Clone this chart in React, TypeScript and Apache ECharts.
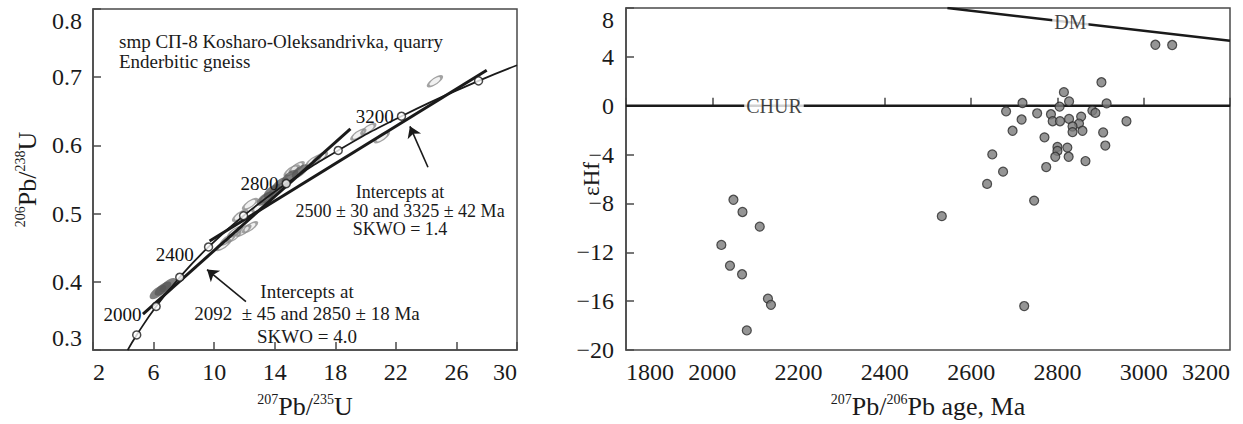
import React, { useEffect, useRef } from "react";
import * as echarts from "echarts";

// ---------- Left panel: concordia diagram ----------
const concordiaX = [4.288, 4.887, 6.169, 7.729, 9.63, 11.944, 14.762, 18.193, 22.371, 27.46, 30.0];
const concordiaY = [0.2999, 0.3221, 0.3638, 0.4067, 0.4511, 0.4968, 0.544, 0.5926, 0.6428, 0.6946, 0.7175];
const markerAges = ["1800", "2000", "2200", "2400", "2600", "2800", "3000", "3200", "3400"];
const markerX = [4.887, 6.169, 7.729, 9.63, 11.944, 14.762, 18.193, 22.371, 27.46];
const markerY = [0.3221, 0.3638, 0.4067, 0.4511, 0.4968, 0.544, 0.5926, 0.6428, 0.6946];
const labelledAges = ["2000", "2400", "2800", "3200"];

const discordia1X = [5.3, 19.0];
const discordia1Y = [0.3527, 0.6242];
const discordia2X = [9.7, 28.0];
const discordia2Y = [0.4597, 0.7101];

const ellipseX = [24.58, 21.07, 20.18, 19.52, 16.99, 16.55, 15.45, 15.12, 14.13, 13.47, 12.37, 11.71, 11.38, 11.27, 10.6, 11.93, 12.37, 10.9, 13.0];
const ellipseY = [0.694, 0.612, 0.624, 0.616, 0.582, 0.577, 0.568, 0.563, 0.536, 0.524, 0.514, 0.497, 0.473, 0.466, 0.454, 0.475, 0.48, 0.462, 0.51];
const blobX = [6.29, 6.62, 6.95, 13.36, 13.82, 14.35, 15.0, 15.67];
const blobY = [0.385, 0.39, 0.395, 0.522, 0.533, 0.543, 0.554, 0.562];

const arrowUpper = [[24.12, 0.568], [22.93, 0.628]];
const arrowLower = [[12.1, 0.371], [9.53, 0.418]];

const upperNote = ["Intercepts at", "2500 ± 30 and 3325 ± 42 Ma", "SKWO = 1.4"];
const lowerNote = ["Intercepts at", "2092  ± 45 and 2850 ± 18 Ma", "SKWO = 4.0"];
const sampleNote = ["smp СП-8 Kosharo-Oleksandrivka, quarry", "Enderbitic gneiss"];

// ---------- Right panel: εHf vs age ----------
const ages = [
  2049, 2070, 2110, 2021, 2041, 2069, 2129, 2136, 2080,
  3027, 3066, 2902, 2815, 2827, 2719, 2914, 2805, 2681, 2753, 2785, 2881, 2888,
  2717, 2789, 2806, 2827, 2855, 2850, 2835, 2960, 2696, 2835, 2858, 2906, 2770,
  2800, 2823, 2800, 2911, 2795, 2826, 2649, 2865, 2774, 2674, 2637, 2746, 2532, 2723,
];
const epsHf = [
  -7.7, -8.7, -9.9, -11.4, -13.1, -13.8, -15.8, -16.3, -18.4,
  4.99, 4.97, 1.92, 1.11, 0.35, 0.22, 0.19, -0.08, -0.46, -0.62, -0.7, -0.4, -0.59,
  -1.13, -1.27, -1.27, -1.08, -0.89, -1.46, -1.7, -1.27, -2.05, -2.16, -2.05, -2.19, -2.59,
  -3.37, -3.43, -3.7, -3.26, -4.18, -4.18, -3.99, -4.53, -5.02, -5.4, -6.4, -7.77, -9.04, -16.4,
];
const dmAges = [2545, 3200];
const dmEps = [8, 5.32];
const churAges = [1800, 3200];
const churEps = [0, 0];
const dmLabelAt = [2830, 6.85];
const churLabelAt = [2143, 0];

const SERIF = '"Liberation Serif", "Times New Roman", serif';
const INK = "#1a1a1a";
const AXIS = "#4a4a4a";

const zip = (a: number[], b: number[]) => a.map((v, i) => [v, b[i]]);

export default function App() {
  const ref = useRef<HTMLDivElement>(null);
  useEffect(() => {
    if (!ref.current) return;
    const chart = echarts.init(ref.current, undefined, { renderer: "svg" });

    const richName = {
      s: { fontSize: 14, fontFamily: SERIF, color: INK, verticalAlign: "top" as const, lineHeight: 28 },
      b: { fontSize: 26, fontFamily: SERIF, color: INK, lineHeight: 28 },
    };
    const axisCommon = {
      axisLine: { show: true, lineStyle: { color: AXIS, width: 1.5 } },
      axisTick: { show: true, inside: true, length: 8, lineStyle: { color: AXIS, width: 1.5 } },
      splitLine: { show: false },
    };
    const labelCommon = { fontFamily: SERIF, fontSize: 24, color: INK };
    const noteFont = `19px ${SERIF}`;
    const noteFontSmall = `18px ${SERIF}`;

    const option: any = {
      animation: false,
      backgroundColor: "#fff",
      grid: [
        { left: 93, top: 9, width: 424, height: 343, show: true, borderColor: AXIS, borderWidth: 1.5, backgroundColor: "transparent" },
        { left: 626, top: 8, width: 604, height: 344, show: true, borderColor: AXIS, borderWidth: 1.5, backgroundColor: "transparent" },
      ],
      xAxis: [
        {
          gridIndex: 0, type: "value", min: 2, max: 30, interval: 4, ...axisCommon,
          axisLabel: { ...labelCommon, margin: 10, alignMinLabel: "left", alignMaxLabel: "right" },
          name: "{s|207}{b|Pb/}{s|235}{b|U}", nameLocation: "middle", nameGap: 42,
          nameTextStyle: { rich: richName },
        },
        {
          gridIndex: 1, type: "value", min: 1800, max: 3200, interval: 200, ...axisCommon,
          axisLabel: {
            ...labelCommon, margin: 10, alignMinLabel: "left", alignMaxLabel: "right",
            formatter: (v: number) => String(v),
          },
          name: "{s|207}{b|Pb/}{s|206}{b|Pb age, Ma}", nameLocation: "middle", nameGap: 42,
          nameTextStyle: { rich: richName },
        },
      ],
      yAxis: [
        {
          gridIndex: 0, type: "value", min: 0.3, max: 0.8, interval: 0.1, ...axisCommon,
          axisLabel: {
            ...labelCommon, margin: 11, formatter: (v: number) => v.toFixed(1),
            verticalAlignMinLabel: "bottom", verticalAlignMaxLabel: "top",
          },
          name: "{s|206}{b|Pb/}{s|238}{b|U}", nameLocation: "middle", nameGap: 52, nameRotate: 90,
          nameTextStyle: { rich: richName },
        },
        {
          gridIndex: 1, type: "value", min: -20, max: 8, interval: 4, ...axisCommon,
          axisLabel: {
            ...labelCommon, margin: 12, formatter: (v: number) => String(v).replace("-", "\u2212"),
            verticalAlignMaxLabel: "top",
          },
          name: "εHf", nameLocation: "middle", nameGap: 23, nameRotate: 90, nameMoveOverlap: false,
          nameTextStyle: { fontFamily: SERIF, fontSize: 23, color: INK },
        },
      ],
      series: [
        {
          type: "scatter", xAxisIndex: 0, yAxisIndex: 0, symbol: "circle", symbolSize: [16, 6], symbolRotate: 35,
          itemStyle: { color: "rgba(140,140,140,0.15)", borderColor: "#8c8c8c", borderWidth: 2 },
          data: zip(ellipseX, ellipseY), silent: true, z: 2,
        },
        {
          type: "scatter", xAxisIndex: 0, yAxisIndex: 0, symbol: "circle", symbolSize: [20, 9], symbolRotate: 38,
          itemStyle: { color: "#555", opacity: 0.75 },
          data: zip(blobX, blobY), silent: true, z: 2,
        },
        {
          type: "line", xAxisIndex: 0, yAxisIndex: 0, smooth: true, showSymbol: false, symbol: "none",
          lineStyle: { color: INK, width: 1.8 }, data: zip(concordiaX, concordiaY), z: 3,
        },
        {
          type: "line", xAxisIndex: 0, yAxisIndex: 0, symbol: "none",
          lineStyle: { color: INK, width: 3 }, data: zip(discordia1X, discordia1Y), z: 4,
        },
        {
          type: "line", xAxisIndex: 0, yAxisIndex: 0, symbol: "none",
          lineStyle: { color: INK, width: 3 }, data: zip(discordia2X, discordia2Y), z: 4,
          markLine: {
            silent: true, symbol: ["none", "arrow"], symbolSize: 11,
            lineStyle: { color: INK, width: 1.6, type: "solid" }, label: { show: false },
            itemStyle: { color: INK },
            data: [
              [{ coord: arrowUpper[0] }, { coord: arrowUpper[1] }],
              [{ coord: arrowLower[0] }, { coord: arrowLower[1] }],
            ],
          },
        },
        {
          type: "scatter", xAxisIndex: 0, yAxisIndex: 0, symbol: "circle", symbolSize: 8, z: 6,
          itemStyle: { color: "#fff", borderColor: INK, borderWidth: 1.5 },
          data: markerAges.map((a, i) => {
            const lab = labelledAges.indexOf(a) >= 0;
            const low = a === "2000" || a === "2400";
            return {
              name: a, value: [markerX[i], markerY[i]],
              label: {
                show: lab, position: "left", distance: low ? 10 : 3, offset: low ? [0, 8] : [0, 0],
                formatter: a, fontFamily: SERIF, fontSize: 19, color: "#111",
                textBorderWidth: 0, textBorderColor: "transparent", opacity: 1,
              },
            };
          }),
        },
        // right panel
        {
          type: "line", xAxisIndex: 1, yAxisIndex: 1, symbol: "none",
          lineStyle: { color: INK, width: 2.5 }, data: zip(churAges, churEps), z: 3,
        },
        {
          type: "line", xAxisIndex: 1, yAxisIndex: 1, symbol: "none",
          lineStyle: { color: INK, width: 2.5 }, data: zip(dmAges, dmEps), z: 3,
        },
        {
          type: "scatter", xAxisIndex: 1, yAxisIndex: 1, symbolSize: 0, z: 4,
          label: {
            show: true, position: "inside", fontFamily: SERIF, fontSize: 20, color: "#111",
            textBorderWidth: 0, textBorderColor: "transparent",
            backgroundColor: "#fff", padding: [0, 2], formatter: (p: any) => p.name,
          },
          data: [
            { name: "DM", value: dmLabelAt },
            { name: "CHUR", value: churLabelAt },
          ],
        },
        {
          type: "scatter", xAxisIndex: 1, yAxisIndex: 1, symbol: "circle", symbolSize: 9, z: 5,
          itemStyle: { color: "#7a7a7a", borderColor: "#2a2a2a", borderWidth: 1.2 },
          data: zip(ages, epsHf),
        },
      ],
      graphic: [
        { type: "text", x: 119, y: 31, style: { text: sampleNote.join("\n"), font: noteFont, lineHeight: 20, fill: INK, align: "left", verticalAlign: "top" } },
        { type: "text", x: 400, y: 183, style: { text: upperNote.join("\n"), font: noteFontSmall, lineHeight: 18.5, fill: INK, align: "center", verticalAlign: "top" } },
        { type: "text", x: 307, y: 280, style: { text: lowerNote.join("\n"), font: noteFont, lineHeight: 22.5, fill: INK, align: "center", verticalAlign: "top" } },
      ],
    };
    chart.setOption(option);
    return () => chart.dispose();
  }, []);
  return <div ref={ref} style={{ position: "fixed", left: 0, top: 0, width: 1243, height: 424 }} />;
}
